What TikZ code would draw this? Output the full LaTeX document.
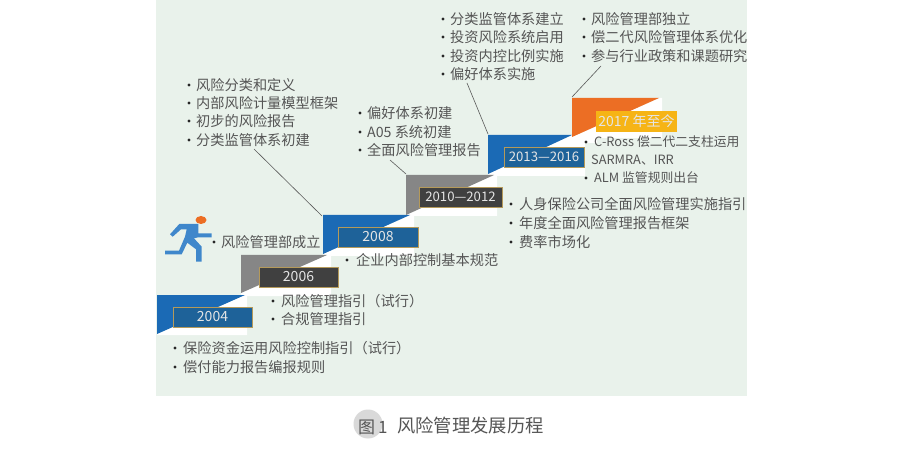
\documentclass[tikz,border=0pt]{standalone}
\usepackage{fontspec}
\setmainfont{Noto Sans CJK SC}
\definecolor{bgc}{HTML}{E9F2EB}
\definecolor{bluec}{HTML}{1B6AB5}
\definecolor{grayc}{HTML}{868686}
\definecolor{orangec}{HTML}{EC6E24}
\definecolor{labelblue}{HTML}{1E6299}
\definecolor{labeldark}{HTML}{404040}
\definecolor{goldc}{HTML}{B59A5A}
\definecolor{yellowc}{HTML}{F6B416}
\definecolor{textc}{HTML}{555555}
\definecolor{runc}{HTML}{3F87CB}
\tikzset{
  x=1pt,y=-1pt,
  item/.style={anchor=west,inner sep=0pt,text=textc,font=\fontsize{14.2}{14.2}\selectfont},
  smallitem/.style={item,font=\fontsize{12.8}{12.8}\selectfont},
  bulletdot/.style={circle,fill=black!85,inner sep=0pt,minimum size=3.4pt},
  yearbox/.style={draw=goldc,line width=0.8pt,text=white!90!black,inner sep=0pt,font=\fontsize{14}{14}\selectfont},
  leader/.style={draw=black!65,line width=0.6pt},
}
\newcommand{\yearlabel}[7]{% name x1 y1 x2 y2 fill text
  \node[yearbox,fill=#6,minimum width=#4pt-#2pt,minimum height=#5pt-#3pt] (#1) at ({(#2+#4)/2},{(#3+#5)/2}) {#7};}
\newcommand{\listitem}[5]{% name bulletx textx y text
  \node[bulletdot] (#1b) at (#2,#4) {};
  \node[item] (#1) at (#3,#4) {#5};}
\newcommand{\smalllistitem}[5]{%
  \node[bulletdot] (#1b) at (#2,#4) {};
  \node[smallitem] (#1) at (#3,#4) {#5};}
\newcommand{\spanfont}{\fontsize{13.2}{13.2}\selectfont}
\begin{document}
\begin{tikzpicture}
\useasboundingbox (0,0) rectangle (900,449);
\fill[white] (0,0) rectangle (900,449);
\fill[bgc] (156,0) rectangle (747,396);
% white shadows
\fill[white] (245,295) -- (247,295) -- (247,335) -- (157,335) -- (157,334) -- cycle;
\fill[white] (327,255) -- (331,255) -- (331,296) -- (241,296) -- (241,293) -- cycle;
\fill[white] (410,215) -- (414,215) -- (414,256) -- (323,256) -- (323,254) -- cycle;
\fill[white] (494,175) -- (497,175) -- (497,216) -- (406,216) -- (406,215) -- cycle;
\fill[white] (572,135) -- (585,135) -- (585,176) -- (488,176) -- (488,174) -- cycle;
\fill[white] (659,98) -- (662,98) -- (662,138) -- (597,138) -- (597,143) -- (572,143) -- (572,137) -- cycle;
% steps
\fill[bluec] (157,295) -- (245,295) -- (157,334) -- cycle;
\fill[grayc] (241,255) -- (327,255) -- (241,293) -- cycle;
\fill[bluec] (323,215) -- (410,215) -- (323,254) -- cycle;
\fill[grayc] (406,175) -- (494,175) -- (406,215) -- cycle;
\fill[bluec] (488,135) -- (572,135) -- (488,174) -- cycle;
\fill[orangec] (572,98) -- (659,98) -- (572,137) -- cycle;
% year labels
\yearlabel{y04}{173}{307}{252}{327}{labelblue}{2004}
\yearlabel{y06}{259}{267}{338}{287}{labeldark}{2006}
\yearlabel{y08}{338}{227}{418}{247}{labelblue}{2008}
\yearlabel{y10}{419}{187}{502}{207}{labeldark}{\spanfont 2010—2012}
\yearlabel{y13}{504}{147}{584}{167}{labelblue}{\spanfont 2013—2016}
\node[inner sep=0pt,fill=yellowc,text=white!90!black,minimum width=81pt,minimum height=21pt,font=\fontsize{14}{14}\selectfont] (y17) at (636.5,121.5) {2017 年至今};
% leaders
\coordinate (l1a) at (322,216); \coordinate (l1b) at (254,149);
\coordinate (l2a) at (406,174); \coordinate (l2b) at (390,160);
\coordinate (l3a) at (488,134); \coordinate (l3b) at (467,83);
\coordinate (l4a) at (572,97);  \coordinate (l4b) at (601,66);
\draw[leader] (l1a) -- (l1b);
\draw[leader] (l2a) -- (l2b);
\draw[leader] (l3a) -- (l3b);
\draw[leader] (l4a) -- (l4b);
% runner
\fill[orangec] (201,220) ellipse (5.5 and 4);
\fill[runc] (170,234.3) -- (179.3,224) -- (198.3,224) -- (198.3,233.3) -- (211.7,233.3) -- (211.7,237.3) -- (198.3,237.3) -- (194,238.3) -- (201.7,246.7) -- (201.7,261.7) -- (196,261.7) -- (196,249.3) -- (187.3,242.7) -- (181.7,254.3) -- (165,254.3) -- (165,250.7) -- (179,250.7) -- (185,236.7) -- (186.7,229.3) -- (181,229.3) -- (172.7,236.7) -- cycle;
% lists
\listitem{a1}{189}{196}{85}{风险分类和定义}
\listitem{a2}{189}{196}{103}{内部风险计量模型框架}
\listitem{a3}{189}{196}{121}{初步的风险报告}
\listitem{a4}{189}{196}{140}{分类监管体系初建}
\listitem{b1}{360}{367}{113}{偏好体系初建}
\listitem{b2}{360}{367}{132}{A05 系统初建}
\listitem{b3}{360}{367}{150}{全面风险管理报告}
\listitem{c1}{443}{450}{19}{分类监管体系建立}
\listitem{c2}{443}{450}{37}{投资风险系统启用}
\listitem{c3}{443}{450}{56}{投资内控比例实施}
\listitem{c4}{443}{450}{74}{偏好体系实施}
\listitem{d1}{584}{591}{19}{风险管理部独立}
\listitem{d2}{584}{591}{37}{偿二代风险管理体系优化}
\listitem{d3}{584}{591}{56}{参与行业政策和课题研究}
\smalllistitem{e1}{586}{594}{142}{C-Ross 偿二代二支柱运用}
\node[smallitem] (e2) at (591,160) {SARMRA、IRR};
\smalllistitem{e3}{586}{594}{178}{ALM 监管规则出台}
\listitem{f1}{511}{519}{204}{人身保险公司全面风险管理实施指引}
\listitem{f2}{511}{519}{223}{年度全面风险管理报告框架}
\listitem{f3}{511}{519}{242}{费率市场化}
\listitem{g1}{214}{221}{242}{风险管理部成立}
\listitem{h1}{347}{356}{260}{企业内部控制基本规范}
\listitem{i1}{273}{281}{301}{风险管理指引（试行）}
\listitem{i2}{273}{281}{319}{合规管理指引}
\listitem{j1}{175}{183}{348}{保险资金运用风险控制指引（试行）}
\listitem{j2}{175}{183}{367}{偿付能力报告编报规则}
% caption
\fill[black!15] (368,424) circle (14.5);
\node[item,font=\fontsize{17}{17}\selectfont] (capn) at (358,427) {图\kern3pt 1};
\node[item,font=\fontsize{18.3}{18.3}\selectfont] (capt) at (397,426) {风险管理发展历程};
\end{tikzpicture}
\end{document}
